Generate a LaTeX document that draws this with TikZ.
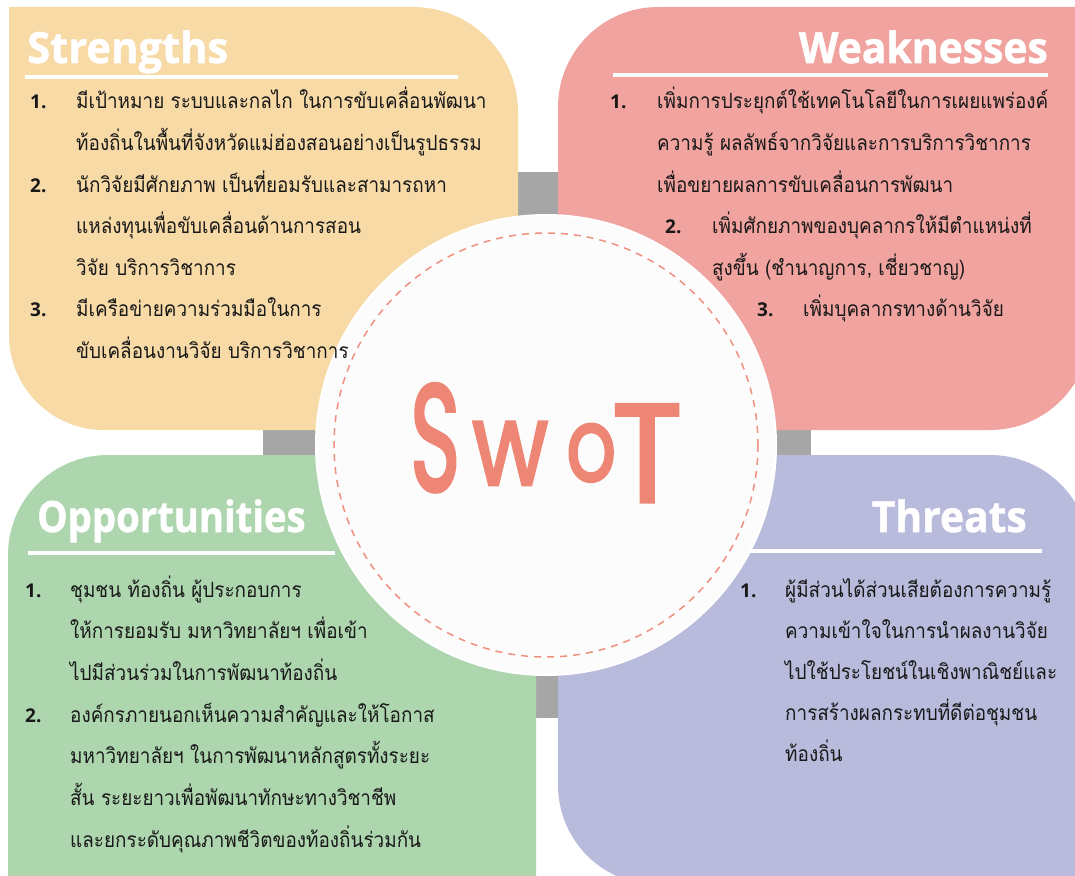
\documentclass[tikz,border=0pt]{standalone}
\usepackage{fontspec}
\newfontfamily\thaifont[Script=Thai, FakeStretch=0.9]{Loma}
\newfontfamily\titlefont[FakeBold=1.2]{Open Sans}
\newfontfamily\numfont{Open Sans}
\newfontfamily\swotfont[FakeBold=2.6]{Poppins}
\definecolor{sCol}{HTML}{F8DAA7}
\definecolor{wCol}{HTML}{F0A39F}
\definecolor{oCol}{HTML}{ADD6AE}
\definecolor{tCol}{HTML}{B9BBDC}
\definecolor{barCol}{HTML}{A6A6A6}
\definecolor{circCol}{HTML}{FCFCFC}
\definecolor{swotCol}{HTML}{EE8676}
\definecolor{dashCol}{HTML}{F0907F}
\tikzset{
  titletext/.style={font=\titlefont\bfseries\fontsize{43}{43}\selectfont, text=white, inner sep=0},
  body/.style={font=\thaifont\fontsize{21}{21}\selectfont, inner sep=0, anchor=base west, text=black!90},
  num/.style={font=\numfont\bfseries\fontsize{19}{19}\selectfont, inner sep=0, anchor=base west, text=black!90},
  uline/.style={draw=white, line width=4.5pt},
  swotletter/.style={font=\swotfont\fontsize{150}{150}\selectfont, text=swotCol, inner sep=0, anchor=south west},
}
\begin{document}
\begin{tikzpicture}[x=1pt,y=-1pt]
\useasboundingbox (0,0) rectangle (1075,875);
% gray cross bars
\fill[barCol] (518,172) rectangle (558,718);
\fill[barCol] (263,430) rectangle (811,455);
% quadrants
\fill[sCol] (9,7) -- (413,7) arc[start angle=270,end angle=360,radius=105] -- (518,430) -- (104,430) arc[start angle=90,end angle=180,radius=95] -- cycle;
\fill[wCol] (558,107) arc[start angle=180,end angle=270,radius=100] -- (1090,7) -- (1090,330) arc[start angle=0,end angle=90,radius=100] -- (558,430) -- cycle;
\fill[oCol] (8,555) arc[start angle=180,end angle=270,radius=100] -- (536,455) -- (536,885) -- (8,885) -- cycle;
\fill[tCol] (558,455) -- (990,455) arc[start angle=270,end angle=360,radius=100] -- (1090,885) -- (658,885) arc[start angle=90,end angle=180,radius=100] -- cycle;
% titles
\node[titletext, anchor=base west] (sT) at (27,63) {\scalebox{0.97}[1]{Strengths}};
\node[titletext, anchor=base east] (wT) at (1048,63) {\scalebox{0.95}[1]{Weaknesses}};
\node[titletext, anchor=base west] (oT) at (37,532) {\scalebox{0.89}[1]{Opportunities}};
\node[titletext, anchor=base east] (tT) at (1027,532) {\scalebox{0.95}[1]{Threats}};
\coordinate (sL1) at (25,77); \coordinate (sL2) at (458,77);
\coordinate (wL1) at (613,75); \coordinate (wL2) at (1048,75);
\coordinate (oL1) at (28,553); \coordinate (oL2) at (335,553);
\coordinate (tL1) at (742,551); \coordinate (tL2) at (1042,551);
\draw[uline] (sL1) -- (sL2);
\draw[uline] (wL1) -- (wL2);
\draw[uline] (oL1) -- (oL2);
\draw[uline] (tL1) -- (tL2);
% centre circle
\node[circle, fill=circCol, draw=white, line width=2pt, minimum size=460pt, inner sep=0] (c) at (546,445) {};
\draw[dashCol, line width=1.5pt, dash pattern=on 7pt off 6pt] (c.center) circle[radius=212];
% SWOT letters
\node[swotletter] (sw1) at (410,492) {\resizebox{50pt}{107pt}{S}};
\node[swotletter] (sw2) at (472,485) {\resizebox{76pt}{63pt}{w}};
\node[swotletter] (sw3) at (566,482) {\resizebox{50pt}{57pt}{o}};
\node[swotletter] (sw4) at (612,502) {\resizebox{70pt}{97pt}{T}};
% Strengths
\node[num] (sn1) at (30,108) {1.};
\node[body] (s1a) at (76,108) {มีเป้าหมาย ระบบและกลไก ในการขับเคลื่อนพัฒนา};
\node[body] (s1b) at (76,150) {ท้องถิ่นในพื้นที่จังหวัดแม่ฮ่องสอนอย่างเป็นรูปธรรม};
\node[num] (sn2) at (30,192) {2.};
\node[body] (s2a) at (76,192) {นักวิจัยมีศักยภาพ เป็นที่ยอมรับและสามารถหา};
\node[body] (s2b) at (76,233) {แหล่งทุนเพื่อขับเคลื่อนด้านการสอน};
\node[body] (s2c) at (76,275) {วิจัย บริการวิชาการ};
\node[num] (sn3) at (30,316) {3.};
\node[body] (s3a) at (76,316) {มีเครือข่ายความร่วมมือในการ};
\node[body] (s3b) at (76,358) {ขับเคลื่อนงานวิจัย บริการวิชาการ};
% Weaknesses
\node[num] (wn1) at (610,108) {1.};
\node[body] (w1a) at (657,108) {เพิ่มการประยุกต์ใช้เทคโนโลยีในการเผยแพร่องค์};
\node[body] (w1b) at (657,150) {ความรู้ ผลลัพธ์จากวิจัยและการบริการวิชาการ};
\node[body] (w1c) at (657,192) {เพื่อขยายผลการขับเคลื่อนการพัฒนา};
\node[num] (wn2) at (665,233) {2.};
\node[body] (w2a) at (712,233) {เพิ่มศักยภาพของบุคลากรให้มีตำแหน่งที่};
\node[body] (w2b) at (712,275) {สูงขึ้น (ชำนาญการ, เชี่ยวชาญ)};
\node[num] (wn3) at (757,316) {3.};
\node[body] (w3a) at (803,316) {เพิ่มบุคลากรทางด้านวิจัย};
% Opportunities
\node[num] (on1) at (25,597) {1.};
\node[body] (o1a) at (70,597) {ชุมชน ท้องถิ่น ผู้ประกอบการ};
\node[body] (o1b) at (70,638) {ให้การยอมรับ มหาวิทยาลัยฯ เพื่อเข้า};
\node[body] (o1c) at (70,680) {ไปมีส่วนร่วมในการพัฒนาท้องถิ่น};
\node[num] (on2) at (25,722) {2.};
\node[body] (o2a) at (70,722) {องค์กรภายนอกเห็นความสำคัญและให้โอกาส};
\node[body] (o2b) at (70,763) {มหาวิทยาลัยฯ ในการพัฒนาหลักสูตรทั้งระยะ};
\node[body] (o2c) at (70,805) {สั้น ระยะยาวเพื่อพัฒนาทักษะทางวิชาชีพ};
\node[body] (o2d) at (70,847) {และยกระดับคุณภาพชีวิตของท้องถิ่นร่วมกัน};
% Threats
\node[num] (tn1) at (740,597) {1.};
\node[body] (t1a) at (785,597) {ผู้มีส่วนได้ส่วนเสียต้องการความรู้};
\node[body] (t1b) at (785,638) {ความเข้าใจในการนำผลงานวิจัย};
\node[body] (t1c) at (785,679) {ไปใช้ประโยชน์ในเชิงพาณิชย์และ};
\node[body] (t1d) at (785,720) {การสร้างผลกระทบที่ดีต่อชุมชน};
\node[body] (t1e) at (785,761) {ท้องถิ่น};
\end{tikzpicture}
\end{document}
